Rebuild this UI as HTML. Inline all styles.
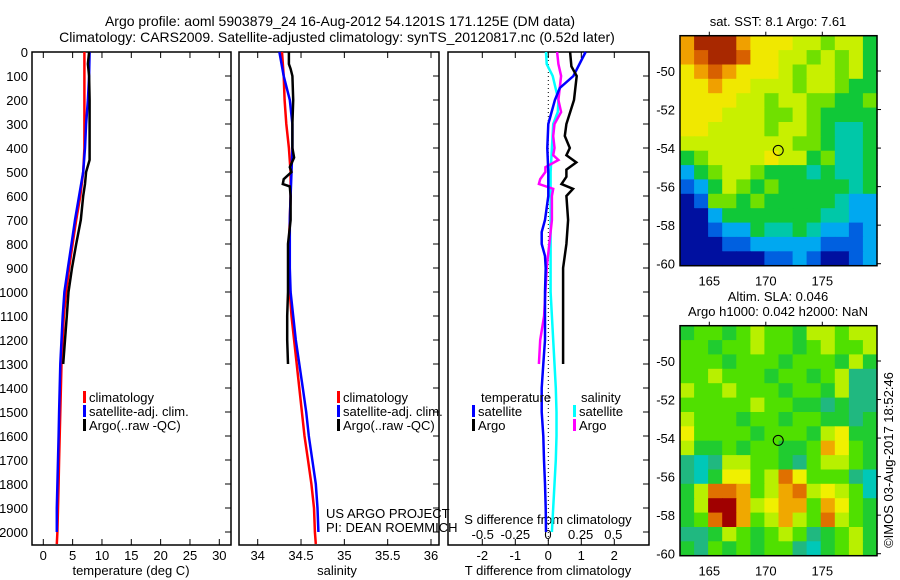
<!DOCTYPE html>
<html><head><meta charset="utf-8"><style>
html,body{margin:0;padding:0;background:#fff}
svg{display:block;font-family:"Liberation Sans",sans-serif}
text{fill:#000}
</style></head><body>
<svg id="fig" width="900" height="580" viewBox="0 0 900 580" xmlns="http://www.w3.org/2000/svg">
<rect width="900" height="580" fill="#fff"/>
<text x="340" y="26" font-size="14" text-anchor="middle">Argo profile: aoml 5903879_24 16-Aug-2012 54.1201S 171.125E (DM data)</text>
<text x="337" y="42" font-size="14" text-anchor="middle">Climatology: CARS2009. Satellite-adjusted climatology: synTS_20120817.nc (0.52d later)</text>
<g id="g"></g>
</svg>
<script>
// ---- data ----
const tClimDepth=[0,100,200,300,400,500,600,700,800,900,1000,1100,1200,1300,1400,1500,1600,1700,1800,1900,2000,2050];
const tClim=[7.0,7.0,7.0,7.0,7.0,6.8,6.3,5.6,5.0,4.4,3.9,3.5,3.3,3.1,3.0,2.9,2.8,2.7,2.6,2.5,2.4,2.3];
const tSatDepth=[0,100,200,300,400,500,600,700,800,900,1000,1100,1200,1300,1400,1500,1600,1700,1800,1900,2000];
const tSat=[7.9,7.8,7.6,7.3,7.1,6.8,6.1,5.4,4.8,4.2,3.6,3.3,3.1,2.9,2.8,2.7,2.6,2.5,2.4,2.3,2.3];
const argoDepth=[0,50,100,200,300,400,450,500,550,600,700,800,900,1000,1100,1200,1300];
const tArgo=[7.8,7.6,7.8,7.9,7.9,7.9,7.9,7.3,7.1,6.8,6.4,5.6,4.9,4.3,4.0,3.7,3.4];
const sClim=[34.28,34.30,34.31,34.33,34.36,34.38,34.38,34.37,34.36,34.36,34.37,34.39,34.42,34.45,34.48,34.51,34.54,34.58,34.62,34.65,34.66,34.67];
const sSat=[34.25,34.30,34.37,34.40,34.40,34.39,34.38,34.37,34.37,34.37,34.38,34.41,34.44,34.48,34.52,34.56,34.59,34.63,34.67,34.69,34.70];
const sArgoDepth=[0,50,70,100,200,300,400,440,480,500,530,550,560,600,700,800,900,1000,1100,1200,1300];
const sArgo=[34.36,34.36,34.38,34.40,34.41,34.40,34.40,34.42,34.37,34.39,34.30,34.29,34.37,34.38,34.38,34.35,34.35,34.35,34.34,34.34,34.35];
const dTArgoDepth=[0,60,100,200,300,350,400,430,460,490,520,550,570,600,700,800,900,1000,1100,1200,1300];
const dTArgo=[0.66,0.70,0.86,0.78,0.55,0.50,0.65,0.55,0.85,0.55,0.55,0.40,0.75,0.55,0.60,0.55,0.45,0.45,0.45,0.45,0.45];
const dTSatDepth=[0,100,150,200,300,400,500,600,700,750,800,850,900,1000,1200,1300,1400,1500,1600,1700,1800,1900,2000];
const dTSat=[1.13,0.76,0.35,0.2,0,-0.03,0,0,-0.1,-0.2,-0.2,-0.1,-0.08,-0.1,-0.1,-0.15,-0.2,-0.2,-0.15,-0.13,-0.1,-0.08,-0.07];
const dSSatDepth=[0,50,100,200,250,300,400,500,600,800,1000,1100,1300,1400,1500,1600,1700,1800,1900,2000];
const dSSat=[-0.015,-0.01,0.036,0.08,0.075,0.04,0.03,0.02,0.02,0.02,0.02,0.03,0.05,0.06,0.065,0.065,0.06,0.05,0.04,0.03];
const dSArgoDepth=[0,50,100,200,250,300,350,400,430,450,480,500,530,550,570,600,700,800,900,1000,1100,1200,1300];
const dSArgo=[0.07,0.08,0.10,0.08,0.10,0.05,0.04,0.05,0.04,0.08,-0.02,-0.02,-0.06,-0.07,0.04,0.03,0.03,0.01,-0.01,-0.02,-0.03,-0.06,-0.07];
const depthTicks=[0,100,200,300,400,500,600,700,800,900,1000,1100,1200,1300,1400,1500,1600,1700,1800,1900,2000];
const tTicks=[0,5,10,15,20,25,30];
const sTicks=[34,34.5,35,35.5,36];
const dTTicks=[-2,-1,0,1,2];
const dSTicks=[-0.5,-0.25,0,0.25,0.5];
const lonTicks=[165,170,175];
const latTicks=[-50,-52,-54,-56,-58,-60];
const sstGrid=["oRRRoYYYyyGyyg","oORROYYyyGyGyg","YoOoYYYyGyyGyg","YYoYYyyyGyyGgg","YYYYyyGyyGGggG","YYYyyyGGyGgggg","YYyyyyGyyGgccg","yyyyyyyyGGgccg","gGyyyyYyygGccg","CgGyyGgggcgccg","BCgyGgGgggggcg","DBGGgGgggggcCC","DDCgggggggccCC","DDBCCgccgcCCBC","DDDBBCCCCCBBBC","DDDDDDBBCBDDBC"];
const slaGrid=["gGGgGyGGgyyGyy","GGgGGyGGgGyGGy","GGGgGGGgGGGgyg","GGyGGGgGGgGytt","yGGyGGGgGGgytt","GGGGGyGGggtgtt","yGGGgGGgGGggtg","YGGGGgGGGgyYgg","yggGgGGggGoYGg","tTtyyGGgtGyyGg","tTgYYGyOYGGGtT","gyOOoGyoOyYyGT","gyRRoyYooGoYGg","gGORoGyoyGOyGg","ttgyGgGyGtgGyg","gtGgGgGGtTgGyg"];
const argoLon=171.1, argoLat=-54.12;

// ---- helpers ----
const NS="http://www.w3.org/2000/svg";
const G=document.getElementById('g');
function mk(tag,at,parent){const e=document.createElementNS(NS,tag);for(const k in at)e.setAttribute(k,at[k]);(parent||G).appendChild(e);return e;}
function txt(x,y,s,size,anchor,parent){const e=mk('text',{x:x,y:y,'font-size':size||13,'text-anchor':anchor||'start'},parent);e.textContent=s;return e;}
const Y0=52,Y1=545;
const yD=d=>Y0+d*0.24;
function lin(d0,p0,d1,p1){return v=>p0+(v-d0)*(p1-p0)/(d1-d0);}
const xT=lin(0,43.3,30,219.3);
const xS=lin(34,257.7,36,431);
const xDT=lin(0,548.3,2,614.3);
const xDS=lin(0,548,0.5,613.3);

function panel(x0,x1,name){
  const r=mk('rect',{x:x0,y:Y0,width:x1-x0,height:Y1-Y0,fill:'none',stroke:'#000','stroke-width':1.5});
  
  
  depthTicks.forEach(d=>{const t=mk('line',{x1:x1-6,x2:x1,y1:yD(d),y2:yD(d),stroke:'#000'});
    
    });
}
function xticks(vals,fx,labels,name,ly,size){
  vals.forEach((v,i)=>{const x=fx(v);
    const a=mk('line',{x1:x,x2:x,y1:Y0,y2:Y0+6,stroke:'#000'});
    
    
    const b=mk('line',{x1:x,x2:x,y1:Y1-6,y2:Y1,stroke:'#000'});
    
    
    const t=txt(x,ly,labels[i],size||13,'middle');
    
    });
}
function line(depths,vals,fx,color,name,w){
  const pts=depths.map((d,i)=>fx(vals[i]).toFixed(1)+','+yD(d).toFixed(1)).join(' ');
  const p=mk('polyline',{points:pts,fill:'none',stroke:color,'stroke-width':w||2.5,'stroke-linejoin':'miter'});
  
  
}
function legendEntry(x,y,color,label,name){
  const m=mk('rect',{x:x,y:y-11,width:3,height:12,fill:color});
  
  
  const t=txt(x+6,y,label,13);
  
  
}

// depth labels
depthTicks.forEach(d=>{const t=txt(28,yD(d)+5,String(d),13,'end');
  
  });

// panel 1
panel(32,231,'temperature-panel');
xticks(tTicks,xT,tTicks.map(String),'temperature-axis',560);
txt(131,575,'temperature (deg C)',13,'middle');
line(tClimDepth,tClim,xT,'#f00','temperature-climatology-line');
line(tSatDepth,tSat,xT,'#00f','temperature-satellite-line');
line(argoDepth,tArgo,xT,'#000','temperature-argo-line');
legendEntry(83,402,'#f00','climatology','temp-legend-climatology');
legendEntry(83,416,'#00f','satellite-adj. clim.','temp-legend-satellite');
legendEntry(83,430,'#000','Argo(..raw -QC)','temp-legend-argo');

// panel 2
panel(239,439,'salinity-panel');
xticks(sTicks,xS,['34','34.5','35','35.5','36'],'salinity-axis',560);
txt(337,575,'salinity',13,'middle');
line(tClimDepth,sClim,xS,'#f00','salinity-climatology-line');
line(tSatDepth,sSat,xS,'#00f','salinity-satellite-line');
line(sArgoDepth,sArgo,xS,'#000','salinity-argo-line');
legendEntry(337,402,'#f00','climatology','sal-legend-climatology');
legendEntry(337,416,'#00f','satellite-adj. clim.','sal-legend-satellite');
legendEntry(337,430,'#000','Argo(..raw -QC)','sal-legend-argo');
txt(326,518,'US ARGO PROJECT',13);
txt(326,532,'PI: DEAN ROEMMICH',13);

// panel 3
panel(448,649,'difference-panel');
mk('line',{x1:xDT(0),x2:xDT(0),y1:Y0,y2:Y1,stroke:'#000','stroke-dasharray':'1,3'});
xticks(dTTicks,xDT,['-2','-1','0','1','2'],'t-difference-axis',560);
dSTicks.forEach((v,i)=>{const t=txt(xDS(v),539,['-0.5','-0.25','0','0.25','0.5'][i],13,'middle');
  
  });
txt(548,524,'S difference from climatology',13,'middle');
txt(548,575,'T difference from climatology',13,'middle');
line(dSSatDepth,dSSat,xDS,'#0ff','salinity-satellite-diff-line');
line(dSArgoDepth,dSArgo,xDS,'#f0f','salinity-argo-diff-line');
line(dTSatDepth,dTSat,xDT,'#00f','temperature-satellite-diff-line');
line(dTArgoDepth,dTArgo,xDT,'#000','temperature-argo-diff-line');
txt(481,402,'temperature',13);
legendEntry(472,416,'#00f','satellite','diff-legend-temp-satellite');
legendEntry(472,430,'#000','Argo','diff-legend-temp-argo');
txt(581,402,'salinity',13);
legendEntry(573,416,'#0ff','satellite','diff-legend-sal-satellite');
legendEntry(573,430,'#f0f','Argo','diff-legend-sal-argo');

// maps
const sstPal={R:'#a82800',O:'#d86000',o:'#f0a000',Y:'#f0e800',y:'#c8f000',G:'#70e000',g:'#10c838',c:'#00c8a8',C:'#00a8f0',B:'#0060e0',D:'#0010a0'};
const slaPal={R:'#a00000',O:'#e07000',o:'#f0a800',Y:'#f0f000',y:'#b8f000',G:'#50e000',g:'#20cc30',t:'#20b880',T:'#00c8b8'};
const MX0=680,MX1=877;
const xLon=lin(165,709.3,175,822.3);
function map(top,grid,pal,name){
  const bot=top+230, yLat=lin(-50,top+35.3,-60,top+228);
  const cols=grid[0].length,rows=grid.length,cw=(MX1-MX0)/cols,ch=(bot-top)/rows;
  grid.forEach((row,r)=>{for(let c=0;c<cols;c++){
    const cell=mk('rect',{x:(MX0+c*cw).toFixed(1),y:(top+r*ch).toFixed(1),width:(cw+0.6).toFixed(1),height:(ch+0.6).toFixed(1),fill:pal[row[c]]});
    
    }});
  const f=mk('rect',{x:MX0,y:top,width:MX1-MX0,height:230,fill:'none',stroke:'#000','stroke-width':1.5});
  
  
  lonTicks.forEach(v=>{const x=xLon(v);
    mk('line',{x1:x,x2:x,y1:top-4,y2:top,stroke:'#000'});
    const t=txt(x,bot+20,String(v),13,'middle');
    
    });
  latTicks.forEach(v=>{const y=yLat(v);
    mk('line',{x1:MX1,x2:MX1+4,y1:y,y2:y,stroke:'#000'});
    const t=txt(675,y+5,String(v),13,'end');
    
    });
  const c=mk('circle',{cx:xLon(argoLon),cy:yLat(argoLat),r:5,fill:'none',stroke:'#000','stroke-width':1});
  
  
}
map(35.7,sstGrid,sstPal,'sst-map');
map(325.7,slaGrid,slaPal,'sla-map');
txt(778,26,'sat. SST: 8.1 Argo: 7.61',13,'middle');
txt(778,301,'Altim. SLA: 0.046',13,'middle');
txt(778,316,'Argo h1000: 0.042 h2000: NaN',13,'middle');
const cr=txt(0,0,'\u00A9IMOS 03-Aug-2017 18:52:46',13,'middle');
cr.setAttribute('transform','translate(893,460) rotate(-90)');


</script>
</body></html>
